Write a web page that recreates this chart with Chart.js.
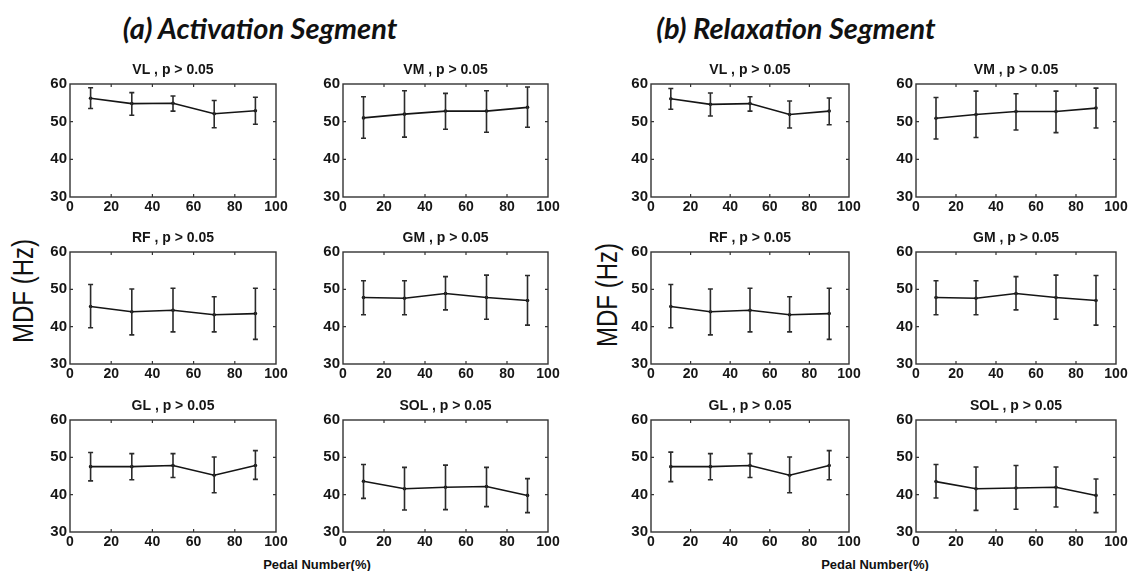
<!DOCTYPE html>
<html><head><meta charset="utf-8">
<script src="https://cdn.jsdelivr.net/npm/chart.js@4.4.1/dist/chart.umd.min.js"></script>
<style>
html,body{margin:0;padding:0;background:#fff}
body{width:1129px;height:571px;overflow:hidden;position:relative;font-family:"Liberation Sans",Arial,sans-serif}
canvas.c{position:absolute}
.head{position:absolute;font-family:Lato,"Open Sans",sans-serif;font-weight:bold;font-style:italic;font-size:29px;color:#111;white-space:nowrap;transform:translate(-50%,-50%)}
.ylab{position:absolute;font-size:30px;color:#111;white-space:nowrap;transform:translate(-50%,-50%) rotate(-90deg) scaleX(0.8)}
.xlab{position:absolute;font-weight:bold;font-size:13px;color:#111;white-space:nowrap;transform:translate(-50%,-50%)}
</style></head>
<body>
<div class="head" style="left:260px;top:27px">(a) Activation Segment</div>
<div class="head" style="left:796px;top:27px">(b) Relaxation Segment</div>
<div class="ylab" style="left:23px;top:291px">MDF (Hz)</div>
<div class="ylab" style="left:607px;top:295px">MDF (Hz)</div>
<div class="xlab" style="left:317px;top:564px">Pedal Number(%)</div>
<div class="xlab" style="left:875px;top:564px">Pedal Number(%)</div>
<script>
// ---------- data ----------
const pedal = [10, 30, 50, 70, 90];
const xTicks = [0, 20, 40, 60, 80, 100];
const yTicks = [30, 40, 50, 60];
const muscles = ['VL', 'VM', 'RF', 'GM', 'GL', 'SOL'];
const pText = 'p > 0.05';

// (a) Activation segment: mean, upper and lower error-bar ends
const actVL_mean = [56.2, 54.8, 54.9, 52.1, 52.9];
const actVL_up   = [59.0, 57.7, 56.8, 55.6, 56.5];
const actVL_lo   = [53.5, 51.7, 52.8, 48.4, 49.3];
const actVM_mean = [51.0, 52.0, 52.8, 52.8, 53.8];
const actVM_up   = [56.6, 58.2, 57.5, 58.2, 59.2];
const actVM_lo   = [45.6, 45.9, 48.0, 47.2, 48.5];
const actRF_mean = [45.4, 44.0, 44.4, 43.2, 43.5];
const actRF_up   = [51.3, 50.1, 50.3, 48.0, 50.3];
const actRF_lo   = [39.7, 37.8, 38.6, 38.6, 36.6];
const actGM_mean = [47.8, 47.6, 48.9, 47.8, 47.0];
const actGM_up   = [52.3, 52.3, 53.4, 53.8, 53.7];
const actGM_lo   = [43.2, 43.2, 44.5, 42.0, 40.4];
const actGL_mean = [47.5, 47.5, 47.8, 45.2, 47.8];
const actGL_up   = [51.3, 51.0, 51.0, 50.1, 51.8];
const actGL_lo   = [43.7, 44.0, 44.6, 40.5, 44.1];
const actSOL_mean = [43.6, 41.6, 42.0, 42.2, 39.8];
const actSOL_up   = [48.1, 47.3, 47.9, 47.3, 44.3];
const actSOL_lo   = [39.0, 35.9, 36.0, 36.8, 35.2];

// (b) Relaxation segment
const relVL_mean = [56.1, 54.6, 54.8, 51.9, 52.8];
const relVL_up   = [58.8, 57.6, 56.6, 55.5, 56.3];
const relVL_lo   = [53.3, 51.5, 52.8, 48.3, 49.2];
const relVM_mean = [50.9, 51.9, 52.7, 52.7, 53.6];
const relVM_up   = [56.4, 58.1, 57.4, 58.1, 58.9];
const relVM_lo   = [45.4, 45.8, 47.8, 47.1, 48.3];
const relRF_mean = [45.4, 44.0, 44.4, 43.2, 43.5];
const relRF_up   = [51.3, 50.1, 50.3, 48.0, 50.3];
const relRF_lo   = [39.7, 37.8, 38.6, 38.6, 36.6];
const relGM_mean = [47.8, 47.6, 48.9, 47.8, 47.0];
const relGM_up   = [52.3, 52.3, 53.4, 53.8, 53.7];
const relGM_lo   = [43.2, 43.2, 44.5, 42.0, 40.4];
const relGL_mean = [47.5, 47.5, 47.8, 45.2, 47.8];
const relGL_up   = [51.4, 51.0, 51.0, 50.1, 51.8];
const relGL_lo   = [43.5, 44.0, 44.6, 40.5, 44.0];
const relSOL_mean = [43.5, 41.6, 41.8, 42.0, 39.8];
const relSOL_up   = [48.1, 47.4, 47.8, 47.4, 44.2];
const relSOL_lo   = [39.1, 35.8, 36.1, 36.7, 35.2];

const actMeans = [actVL_mean, actVM_mean, actRF_mean, actGM_mean, actGL_mean, actSOL_mean];
const actUps   = [actVL_up, actVM_up, actRF_up, actGM_up, actGL_up, actSOL_up];
const actLos   = [actVL_lo, actVM_lo, actRF_lo, actGM_lo, actGL_lo, actSOL_lo];
const relMeans = [relVL_mean, relVM_mean, relRF_mean, relGM_mean, relGL_mean, relSOL_mean];
const relUps   = [relVL_up, relVM_up, relRF_up, relGM_up, relGL_up, relSOL_up];
const relLos   = [relVL_lo, relVM_lo, relRF_lo, relGM_lo, relGL_lo, relSOL_lo];

// ---------- layout (plot-area boxes) ----------
const colBox = [[70, 276], [343, 548], [651, 849], [916, 1116]];
const rowBox = [[84, 197], [252, 364], [420, 532]];
const YW = 40, XH = 20, RP = 14, TITLE_LH = 16, TITLE_PAD = 6;
const TH = TITLE_LH + TITLE_PAD;
const FONT = '"Liberation Sans", Arial, sans-serif';
const INK = '#151515';

const errorBars = {
  id: 'errorBars',
  afterDatasetsDraw(chart) {
    const {ctx, scales: {x, y}} = chart;
    chart.data.datasets.forEach(ds => {
      ctx.save();
      ctx.strokeStyle = '#2b2b2b';
      ctx.lineWidth = 1.6;
      ds.data.forEach((p, i) => {
        const px = x.getPixelForValue(p.x);
        const yu = y.getPixelForValue(ds.errUp[i]);
        const yl = y.getPixelForValue(ds.errLo[i]);
        ctx.beginPath();
        ctx.moveTo(px, yu); ctx.lineTo(px, yl);
        ctx.moveTo(px - 2.5, yu); ctx.lineTo(px + 2.5, yu);
        ctx.moveTo(px - 2.5, yl); ctx.lineTo(px + 2.5, yl);
        ctx.stroke();
      });
      ctx.restore();
    });
  }
};

const boxTicks = {
  id: 'boxTicks',
  afterDraw(chart) {
    const {ctx, chartArea: a, scales: {x, y}} = chart;
    ctx.save();
    ctx.strokeStyle = '#333';
    ctx.lineWidth = 1.4;
    ctx.strokeRect(a.left, a.top, a.right - a.left, a.bottom - a.top);
    ctx.lineWidth = 1.2;
    ctx.beginPath();
    x.ticks.forEach(t => {
      if (t.value <= x.min || t.value >= x.max) return;
      const px = x.getPixelForValue(t.value);
      ctx.moveTo(px, a.bottom); ctx.lineTo(px, a.bottom - 3);
      ctx.moveTo(px, a.top); ctx.lineTo(px, a.top + 3);
    });
    y.ticks.forEach(t => {
      if (t.value <= y.min || t.value >= y.max) return;
      const py = y.getPixelForValue(t.value);
      ctx.moveTo(a.left, py); ctx.lineTo(a.left + 3, py);
      ctx.moveTo(a.right, py); ctx.lineTo(a.right - 3, py);
    });
    ctx.stroke();
    ctx.restore();
  }
};

function makeChart(L, T, R, B, title, mean, up, lo) {
  const cv = document.createElement('canvas');
  cv.className = 'c';
  const w = YW + (R - L) + RP, h = TH + (B - T) + XH;
  cv.width = w; cv.height = h;
  cv.style.left = (L - YW) + 'px';
  cv.style.top = (T - TH) + 'px';
  cv.style.width = w + 'px'; cv.style.height = h + 'px';
  document.body.appendChild(cv);
  const tickFont = {family: FONT, size: 14, weight: 'bold'};
  return new Chart(cv, {
    type: 'line',
    data: {
      datasets: [{
        data: pedal.map((px, i) => ({x: px, y: mean[i]})),
        errUp: up, errLo: lo,
        borderColor: INK, borderWidth: 1.6,
        pointRadius: 1.8, pointBackgroundColor: INK, pointBorderWidth: 0,
        tension: 0, fill: false
      }]
    },
    options: {
      responsive: false, animation: false, devicePixelRatio: 1,
      layout: {padding: {left: 0, right: RP, top: 0, bottom: 0}},
      plugins: {
        legend: {display: false}, tooltip: {enabled: false},
        title: {display: true, text: title, fullSize: false, color: INK,
          font: {family: FONT, size: 14, weight: 'bold', lineHeight: TITLE_LH + 'px'},
          padding: {top: 0, bottom: TITLE_PAD}}
      },
      scales: {
        x: {type: 'linear', min: 0, max: 100,
          afterBuildTicks: s => { s.ticks = xTicks.map(v => ({value: v})); },
          afterFit: s => { s.height = XH; },
          ticks: {autoSkip: false, maxRotation: 0, padding: 2, color: INK, font: tickFont},
          grid: {display: false, drawTicks: false}, border: {display: false}},
        y: {type: 'linear', min: 30, max: 60,
          afterBuildTicks: s => { s.ticks = yTicks.map(v => ({value: v})); },
          afterFit: s => { s.width = YW; },
          ticks: {autoSkip: false, padding: 3, color: INK, font: {family: FONT, size: 15, weight: 'bold'}},
          grid: {display: false, drawTicks: false}, border: {display: false}}
      }
    },
    plugins: [errorBars, boxTicks]
  });
}

// panel (a): columns 0,1 ; panel (b): columns 2,3
muscles.forEach((m, k) => {
  const r = Math.floor(k / 2), c = k % 2;
  const [T, B] = rowBox[r];
  const [La, Ra] = colBox[c];
  makeChart(La, T, Ra, B, m + ' , ' + pText, actMeans[k], actUps[k], actLos[k]);
  const [Lb, Rb] = colBox[c + 2];
  makeChart(Lb, T, Rb, B, m + ' , ' + pText, relMeans[k], relUps[k], relLos[k]);
});
</script>
</body></html>
